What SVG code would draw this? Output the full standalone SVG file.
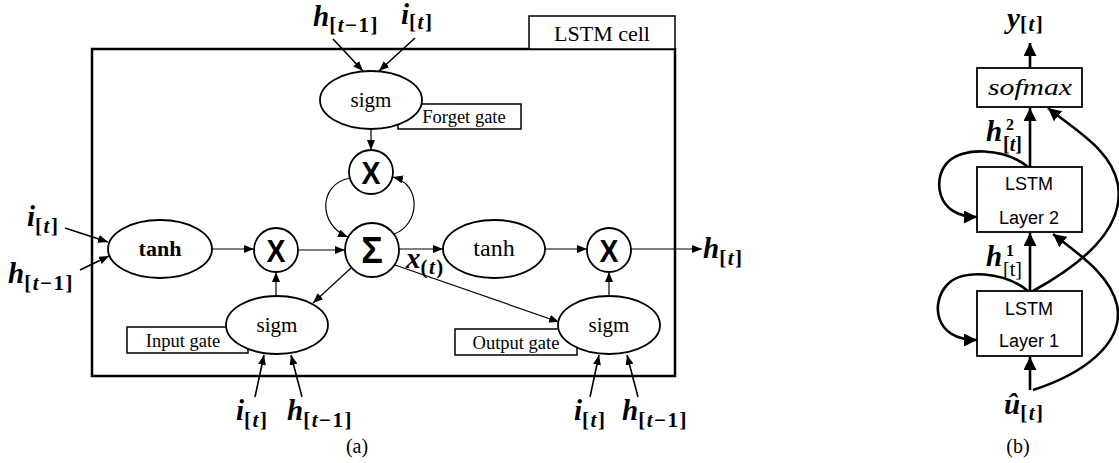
<svg xmlns="http://www.w3.org/2000/svg" width="1119" height="463" viewBox="0 0 1119 463">
<style>
.bg{fill:#fff}
.frame{fill:#fff;stroke:#000;stroke-width:2.5}
.lbox{fill:#fff;stroke:#000;stroke-width:1.5}
.node{fill:#fff;stroke:#000;stroke-width:1.8}
.conn{fill:none;stroke:#000;stroke-width:1.2}
.inp{fill:none;stroke:#000;stroke-width:1.6}
.thick{fill:none;stroke:#000;stroke-width:2.6}
.bbox{fill:#fff;stroke:#000;stroke-width:1.8}
.t{font-family:"Liberation Serif",serif;fill:#000;text-anchor:middle}
.s{font-family:"Liberation Sans",sans-serif;fill:#000;text-anchor:middle}
.mv{font-family:"Liberation Serif",serif;font-weight:bold;font-style:italic;font-size:29px;fill:#000}
.sb{font-style:normal;font-size:21px;letter-spacing:1.5px}
.it{font-style:italic}
.sup{font-family:"Liberation Serif",serif;font-weight:bold;font-size:16px;fill:#000}
.sub2{font-family:"Liberation Serif",serif;font-weight:bold;font-size:20px;fill:#000}
</style>
<defs>
<marker id="a" viewBox="0 0 10 8" refX="10" refY="4" markerWidth="10" markerHeight="8" markerUnits="userSpaceOnUse" orient="auto"><path d="M0,0 L10,4 L0,8 z" fill="#000"/></marker>
<marker id="b" viewBox="0 0 12 12" refX="12" refY="6" markerWidth="13" markerHeight="13" markerUnits="userSpaceOnUse" orient="auto"><path d="M0,0 L12,6 L0,12 z" fill="#000"/></marker>
</defs>
<rect class="bg" x="0" y="0" width="1119" height="463"/>

<g id="lstm-cell">
<rect class="frame" x="92" y="49" width="583" height="327"/>
<rect class="lbox" x="529" y="16" width="146" height="33"/>
<text class="t" x="602" y="41" font-size="22">LSTM cell</text>
</g>

<g id="gate-labels">
<rect class="lbox" x="398" y="104" width="123" height="25"/>
<text class="t" x="464" y="123" font-size="18.5">Forget gate</text>
<rect class="lbox" x="127" y="327" width="121" height="26"/>
<text class="t" x="183" y="347" font-size="18.5">Input gate</text>
<rect class="lbox" x="455" y="329" width="122" height="26"/>
<text class="t" x="516" y="349" font-size="18.5">Output gate</text>
</g>

<g id="connectors">
<line class="inp" x1="333" y1="39" x2="363" y2="71" marker-end="url(#a)"/>
<line class="inp" x1="415" y1="38" x2="379" y2="71" marker-end="url(#a)"/>
<line class="conn" x1="371" y1="129" x2="371" y2="150" marker-end="url(#a)"/>
<path class="conn" d="M350,178 C318,184 318,225 348,237" marker-end="url(#a)"/>
<path class="conn" d="M394,234 C420,225 422,184 393,177" marker-end="url(#a)"/>
<line class="conn" x1="211" y1="249" x2="254" y2="249" marker-end="url(#a)"/>
<line class="conn" x1="298" y1="250" x2="345" y2="250" marker-end="url(#a)"/>
<line class="conn" x1="399" y1="249" x2="443" y2="249" marker-end="url(#a)"/>
<line class="conn" x1="545" y1="249" x2="587" y2="249" marker-end="url(#a)"/>
<line class="conn" x1="631" y1="249" x2="702" y2="249" marker-end="url(#a)"/>
<line class="conn" x1="276" y1="296" x2="276" y2="272" marker-end="url(#a)"/>
<line class="conn" x1="351" y1="268" x2="313" y2="303" marker-end="url(#a)"/>
<line class="conn" x1="395" y1="265" x2="559" y2="322" marker-end="url(#a)"/>
<line class="conn" x1="609" y1="296" x2="609" y2="272" marker-end="url(#a)"/>
<line class="inp" x1="255" y1="397" x2="264" y2="355" marker-end="url(#a)"/>
<line class="inp" x1="302" y1="397" x2="291" y2="355" marker-end="url(#a)"/>
<line class="inp" x1="590" y1="397" x2="599" y2="355" marker-end="url(#a)"/>
<line class="inp" x1="638" y1="397" x2="627" y2="355" marker-end="url(#a)"/>
<line class="inp" x1="65" y1="228" x2="108" y2="242" marker-end="url(#a)"/>
<line class="inp" x1="80" y1="270" x2="109" y2="256" marker-end="url(#a)"/>
<line class="thick" x1="1030" y1="67" x2="1030" y2="43" marker-end="url(#b)"/>
<line class="thick" x1="1030" y1="167" x2="1030" y2="108" marker-end="url(#b)"/>
<line class="thick" x1="1030" y1="291" x2="1030" y2="233" marker-end="url(#b)"/>
<line class="thick" x1="1030" y1="390" x2="1030" y2="357" marker-end="url(#b)"/>
<path class="thick" d="M1028,167 C1005,148 962,146 947,163 C933,178 935,217 977,217" marker-end="url(#b)"/>
<path class="thick" d="M1028,291 C1005,272 962,268 947,285 C931,302 933,340 977,340" marker-end="url(#b)"/>
<path class="thick" d="M1033,291 C1080,265 1125,230 1118,185 C1112,150 1075,130 1048,108" marker-end="url(#b)"/>
<path class="thick" d="M1033,390 C1080,375 1125,345 1117,305 C1110,275 1080,255 1053,234" marker-end="url(#b)"/>
</g>

<g id="forget-sigm"><ellipse class="node" cx="371" cy="100" rx="51" ry="29"/><text class="t" x="371" y="107" font-size="21">sigm</text></g>
<g id="forget-mult"><circle class="node" cx="371" cy="172" r="22"/><text class="s" x="371" y="184" font-size="31" font-weight="bold" textLength="19" lengthAdjust="spacingAndGlyphs">X</text></g>
<g id="sum"><circle class="node" cx="372" cy="250" r="27"/><text class="s" x="372" y="263" font-size="36" font-weight="bold">Σ</text></g>
<g id="tanh-in"><ellipse class="node" cx="160" cy="249" rx="52" ry="29"/><text class="t" x="160" y="256" font-size="22" font-weight="bold">tanh</text></g>
<g id="input-mult"><circle class="node" cx="276" cy="250" r="22"/><text class="s" x="276" y="262" font-size="31" font-weight="bold" textLength="19" lengthAdjust="spacingAndGlyphs">X</text></g>
<g id="tanh-out"><ellipse class="node" cx="494" cy="249" rx="51" ry="29"/><text class="t" x="494" y="256" font-size="24">tanh</text></g>
<g id="output-mult"><circle class="node" cx="609" cy="250" r="22"/><text class="s" x="609" y="262" font-size="31" font-weight="bold" textLength="19" lengthAdjust="spacingAndGlyphs">X</text></g>
<g id="input-sigm"><ellipse class="node" cx="277" cy="325" rx="51" ry="29"/><text class="t" x="277" y="332" font-size="21">sigm</text></g>
<g id="output-sigm"><ellipse class="node" cx="609" cy="325" rx="51" ry="29"/><text class="t" x="609" y="332" font-size="21">sigm</text></g>

<g id="labels-a">
<text class="mv" x="313" y="26">h<tspan class="sb" dy="6">[<tspan class="it">t</tspan>−1]</tspan></text>
<text class="mv" x="401" y="24">i<tspan class="sb" dy="5">[<tspan class="it">t</tspan>]</tspan></text>
<text class="mv" x="27" y="226">i<tspan class="sb" dy="7">[<tspan class="it">t</tspan>]</tspan></text>
<text class="mv" x="8" y="283">h<tspan class="sb" dy="7">[<tspan class="it">t</tspan>−1]</tspan></text>
<text class="mv" x="236" y="420">i<tspan class="sb" dy="7">[<tspan class="it">t</tspan>]</tspan></text>
<text class="mv" x="287" y="420">h<tspan class="sb" dy="7">[<tspan class="it">t</tspan>−1]</tspan></text>
<text class="mv" x="574" y="420">i<tspan class="sb" dy="7">[<tspan class="it">t</tspan>]</tspan></text>
<text class="mv" x="622" y="420">h<tspan class="sb" dy="7">[<tspan class="it">t</tspan>−1]</tspan></text>
<text class="mv" x="703" y="258">h<tspan class="sb" dy="7">[<tspan class="it">t</tspan>]</tspan></text>
<text class="mv" x="406" y="268">x<tspan class="sb" dy="6">(<tspan class="it">t</tspan>)</tspan></text>
<text class="t" x="357" y="453" font-size="20">(a)</text>
</g>

<g id="softmax"><rect class="bbox" x="977" y="68" width="105" height="39"/><text class="t" x="1030" y="95" font-size="24" font-style="italic" textLength="84" lengthAdjust="spacingAndGlyphs">sofmax</text></g>
<g id="layer2"><rect class="bbox" x="977" y="167" width="105" height="65"/><text class="s" x="1029" y="190" font-size="18">LSTM</text><text class="s" x="1029" y="224" font-size="18">Layer 2</text></g>
<g id="layer1"><rect class="bbox" x="977" y="291" width="105" height="65"/><text class="s" x="1029" y="315" font-size="18">LSTM</text><text class="s" x="1029" y="347" font-size="18">Layer 1</text></g>

<g id="labels-b">
<text class="mv" x="1007" y="28">y<tspan class="sb" dy="3">[<tspan class="it">t</tspan>]</tspan></text>
<text class="mv" x="986" y="141">h</text>
<text class="sup" x="1006" y="130">2</text>
<text class="sub2" x="1003" y="151">[<tspan font-style="italic">t</tspan>]</text>
<text class="mv" x="986" y="266">h</text>
<text class="sup" x="1006" y="256">1</text>
<text class="sub2" x="1003" y="276" style="font-weight:normal">[t]</text>
<text class="mv" x="1004" y="414">û<tspan class="sb" dy="6">[<tspan class="it">t</tspan>]</tspan></text>
<text class="t" x="1018" y="453" font-size="20">(b)</text>
</g>
</svg>
